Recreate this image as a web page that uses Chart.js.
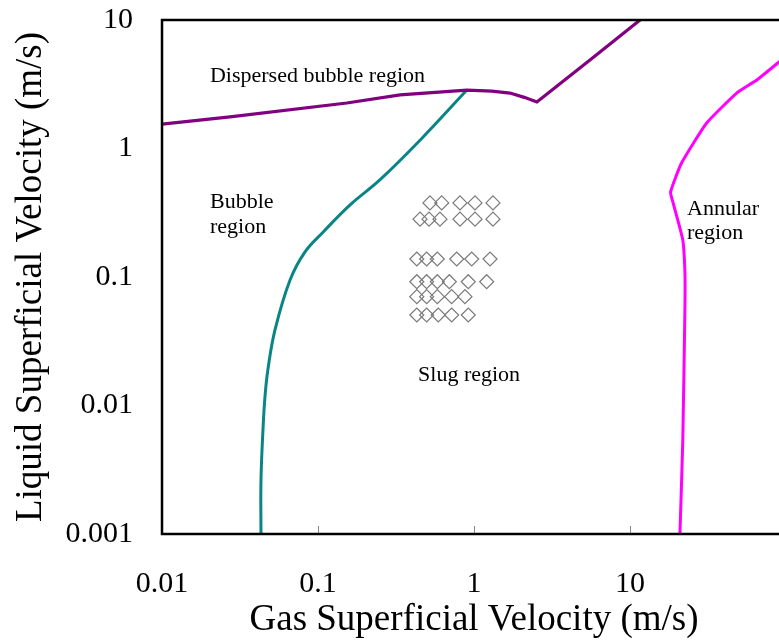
<!DOCTYPE html>
<html>
<head>
<meta charset="utf-8">
<script src="https://cdn.jsdelivr.net/npm/chart.js@4"></script>
<style>
  html, body { margin: 0; padding: 0; background: #fff; overflow: hidden; }
  #wrap { width: 800px; height: 644px; }
</style>
</head>
<body>
<div id="wrap"><canvas id="chart" width="800" height="644"></canvas></div>
<script>
// ─── DATA ────────────────────────────────────────────────────────
const xTicks      = [0.01, 0.1, 1, 10];
const xTickLabels = ['0.01', '0.1', '1', '10'];
const yTicks      = [0.001, 0.01, 0.1, 1, 10];
const yTickLabels = ['0.001', '0.01', '0.1', '1', '10'];

// batas dispersed bubble (ungu)
const dispX = [0.01, 0.0273, 0.153, 0.336, 0.90, 1.30, 1.70, 2.10, 2.53, 5.54, 11.6];
const dispY = [1.55, 1.76, 2.26, 2.61, 2.85, 2.80, 2.70, 2.50, 2.30, 4.89, 10];

// batas bubble - slug (teal)
const bubX = [0.0431, 0.0431, 0.0444, 0.0457, 0.0477, 0.053, 0.0662, 0.0826, 0.108, 0.160, 0.249, 0.451, 0.90];
const bubY = [0.001, 0.0026, 0.0065, 0.0116, 0.0189, 0.0387, 0.0948, 0.157, 0.224, 0.363, 0.569, 1.16, 2.85];

// batas annular (magenta)
const annX = [20.9, 21.8, 22.5, 22.5, 21.8, 18.9, 18.2, 21.4, 31.0, 48.3, 64.9, 90.2, 100];
const annY = [0.001, 0.0054, 0.0584, 0.107, 0.194, 0.377, 0.458, 0.771, 1.58, 2.70, 3.41, 4.71, 5.25];

// titik eksperimen (belah ketupat)
const expX = [
  0.522, 0.621, 0.813, 1.015, 1.323,
  0.451, 0.515, 0.605, 0.813, 1.015, 1.323,
  0.430, 0.497, 0.582, 0.775, 0.967, 1.267,
  0.430, 0.497, 0.582, 0.695, 0.919, 1.206,
  0.430, 0.497, 0.582, 0.719, 0.875,
  0.430, 0.497, 0.590, 0.719, 0.919
];
const expY = [
  0.377, 0.377, 0.377, 0.377, 0.377,
  0.282, 0.282, 0.282, 0.282, 0.282, 0.282,
  0.138, 0.138, 0.138, 0.138, 0.138, 0.138,
  0.0919, 0.0919, 0.0919, 0.0919, 0.0919, 0.0919,
  0.0703, 0.0703, 0.0703, 0.0703, 0.0703,
  0.0506, 0.0506, 0.0506, 0.0506, 0.0506
];

// label daerah aliran (posisi dalam satuan data)
const regionText = ['Dispersed bubble region', 'Bubble', 'region', 'Slug region', 'Annular', 'region'];
const regionX    = [0.0203, 0.0203, 0.0203, 0.438, 23.2, 23.2];
const regionY    = [3.66, 0.384, 0.245, 0.0173, 0.338, 0.22];

const serif = "'Liberation Serif', 'Times New Roman', serif";
const toPts = (xs, ys) => xs.map((x, i) => ({ x, y: ys[i] }));

// ─── PLUGIN: bingkai, tick dalam, label daerah ───────────────────
const framePlugin = {
  id: 'frame',
  afterDatasetsDraw(chart) {
    const { ctx, chartArea: a, scales: { x, y } } = chart;
    ctx.save();
    // tick kecil di dalam sumbu x
    ctx.strokeStyle = '#888';
    ctx.lineWidth = 1;
    xTicks.forEach(v => {
      const px = Math.round(x.getPixelForValue(v)) + 0.5;
      ctx.beginPath();
      ctx.moveTo(px, a.bottom);
      ctx.lineTo(px, a.bottom - 8);
      ctx.stroke();
    });
    ctx.strokeStyle = '#000';
    ctx.lineWidth = 2.5;
    ctx.strokeRect(a.left, a.top, a.right - a.left, a.bottom - a.top);

    ctx.fillStyle = '#000';
    ctx.font = `22px ${serif}`;
    ctx.textAlign = 'left';
    ctx.textBaseline = 'middle';
    regionText.forEach((t, i) => {
      ctx.fillText(t, x.getPixelForValue(regionX[i]), y.getPixelForValue(regionY[i]));
    });
    ctx.restore();
  }
};

new Chart(document.getElementById('chart'), {
  type: 'scatter',
  data: {
    datasets: [
      {
        data: toPts(dispX, dispY),
        showLine: true, borderColor: '#800080', borderWidth: 3.2,
        pointRadius: 0, tension: 0
      },
      {
        data: toPts(bubX, bubY),
        showLine: true, borderColor: '#0a8585', borderWidth: 3,
        pointRadius: 0, tension: 0.4
      },
      {
        data: toPts(annX, annY),
        showLine: true, borderColor: '#ff00ff', borderWidth: 3,
        pointRadius: 0, tension: 0.15
      },
      {
        data: toPts(expX, expY),
        showLine: false, pointStyle: 'rectRot', pointRadius: 7,
        borderColor: '#7a7a7a', borderWidth: 1.2,
        backgroundColor: 'rgba(0,0,0,0)'
      }
    ]
  },
  options: {
    responsive: false,
    animation: false,
    layout: { padding: { top: 20, right: 14, left: 0, bottom: 0 } },
    plugins: { legend: { display: false }, tooltip: { enabled: false } },
    scales: {
      x: {
        type: 'logarithmic', min: 0.01, max: 100,
        afterBuildTicks: s => { s.ticks = xTicks.map(v => ({ value: v })); },
        afterFit: s => { s.height = 110; s.paddingLeft = 0; s.paddingRight = 0; },
        grid: { display: false, drawTicks: false },
        border: { display: false },
        ticks: {
          autoSkip: false, maxRotation: 0, padding: 32, color: '#000',
          font: { family: serif, size: 30 },
          callback: (v, i) => xTickLabels[i]
        },
        title: {
          display: true, text: 'Gas Superficial Velocity (m/s)', color: '#000',
          font: { family: serif, size: 37 }, padding: { top: 0, bottom: 2 }
        }
      },
      y: {
        type: 'logarithmic', min: 0.001, max: 10,
        afterBuildTicks: s => { s.ticks = yTicks.map(v => ({ value: v })); },
        afterFit: s => { s.width = 162; s.paddingTop = 0; s.paddingBottom = 0; },
        grid: { display: false, drawTicks: false },
        border: { display: false },
        ticks: {
          autoSkip: false, padding: 29, color: '#000',
          font: { family: serif, size: 30 },
          callback: (v, i) => yTickLabels[i]
        },
        title: {
          display: true, text: 'Liquid Superficial Velocity (m/s)', color: '#000',
          font: { family: serif, size: 37 }, padding: { top: 9, bottom: 0 }
        }
      }
    }
  },
  plugins: [framePlugin]
});
</script>
</body>
</html>
